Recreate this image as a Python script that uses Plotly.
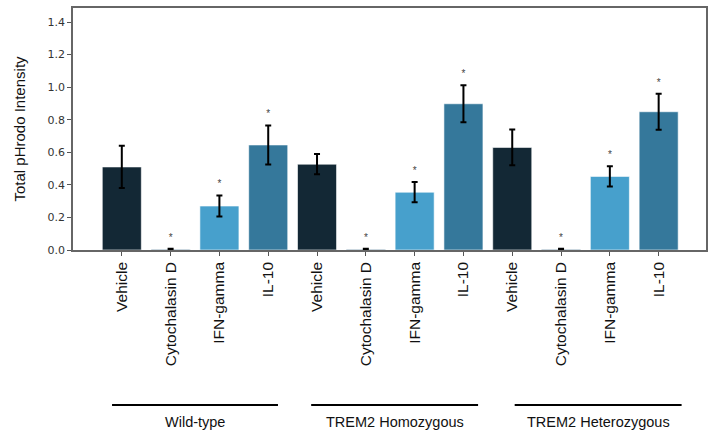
import plotly.graph_objects as go

treatments = ["Vehicle", "Cytochalasin D", "IFN-gamma", "IL-10"]
groups = ["Wild-type", "TREM2 Homozygous", "TREM2 Heterozygous"]

wt_means = [0.51, 0.004, 0.27, 0.645]
wt_errs = [0.13, 0.003, 0.065, 0.12]
homo_means = [0.527, 0.004, 0.355, 0.898]
homo_errs = [0.062, 0.003, 0.062, 0.113]
het_means = [0.630, 0.004, 0.452, 0.849]
het_errs = [0.11, 0.003, 0.062, 0.11]

significant = [False, True, True, True]
colors = ["#132835", "#3b6a87", "#47a0cc", "#35789b"]

means = wt_means + homo_means + het_means
errs = wt_errs + homo_errs + het_errs
labels = treatments * 3
xs = list(range(len(means)))
bar_colors = colors * 3
stars = significant * 3

fig = go.Figure()
fig.add_trace(go.Bar(
    x=xs, y=means, width=0.8,
    marker=dict(color=bar_colors, line=dict(color="rgba(255,255,255,0.6)", width=1)),
    error_y=dict(type="data", array=errs, visible=True, color="black", thickness=2, width=3),
    showlegend=False, hoverinfo="skip",
))

sx = [x for x, s in zip(xs, stars) if s]
sy = [m + e + 0.065 for m, e, s in zip(means, errs, stars) if s]
fig.add_trace(go.Scatter(
    x=sx, y=sy, mode="text", text=["*"] * len(sx), textposition="middle center",
    textfont=dict(family="Liberation Sans", size=10, color="#444444"),
    showlegend=False, hoverinfo="skip",
))

group_spans = [(-0.2, 3.2), (3.88, 7.3), (8.05, 11.47)]
for (a, b), g in zip(group_spans, groups):
    fig.add_shape(type="line", xref="x", yref="paper", x0=a, x1=b, y0=-0.64, y1=-0.64,
                  line=dict(color="black", width=2))
    fig.add_annotation(x=(a + b) / 2, y=-0.71, xref="x", yref="paper", text=g,
                       showarrow=False, yanchor="middle",
                       font=dict(family="Liberation Sans", size=14.5, color="#111111"))

fig.update_layout(
    width=709, height=430,
    margin=dict(l=73, r=3, t=8, b=180, autoexpand=False),
    plot_bgcolor="white", paper_bgcolor="white",
    bargap=0.2,
)
fig.update_xaxes(
    range=[-1.0, 11.97], tickvals=xs, ticktext=labels, tickangle=-90,
    tickfont=dict(family="Liberation Sans", size=15.5, color="#111111"),
    ticks="outside", ticklen=4, tickcolor="#555555", tickwidth=1,
    showline=True, linecolor="#666666", linewidth=1.5, mirror=True,
    showgrid=False, zeroline=False,
)
fig.update_yaxes(
    range=[0, 1.486], tickvals=[0, 0.2, 0.4, 0.6, 0.8, 1.0, 1.2, 1.4], tickformat=".1f",
    tickfont=dict(family="DejaVu Sans", size=11, color="#333333"),
    ticks="outside", ticklen=4, tickcolor="#555555", tickwidth=1,
    showline=True, linecolor="#666666", linewidth=1.5, mirror=True,
    showgrid=False, zeroline=False,
    title=dict(text="Total pHrodo Intensity", font=dict(family="Liberation Sans", size=15, color="#111111"), standoff=18),
)

fig.write_html("out.html", config={"displayModeBar": False},
               post_script="document.body.style.margin='0';document.body.style.padding='0';document.body.style.overflow='hidden';")
